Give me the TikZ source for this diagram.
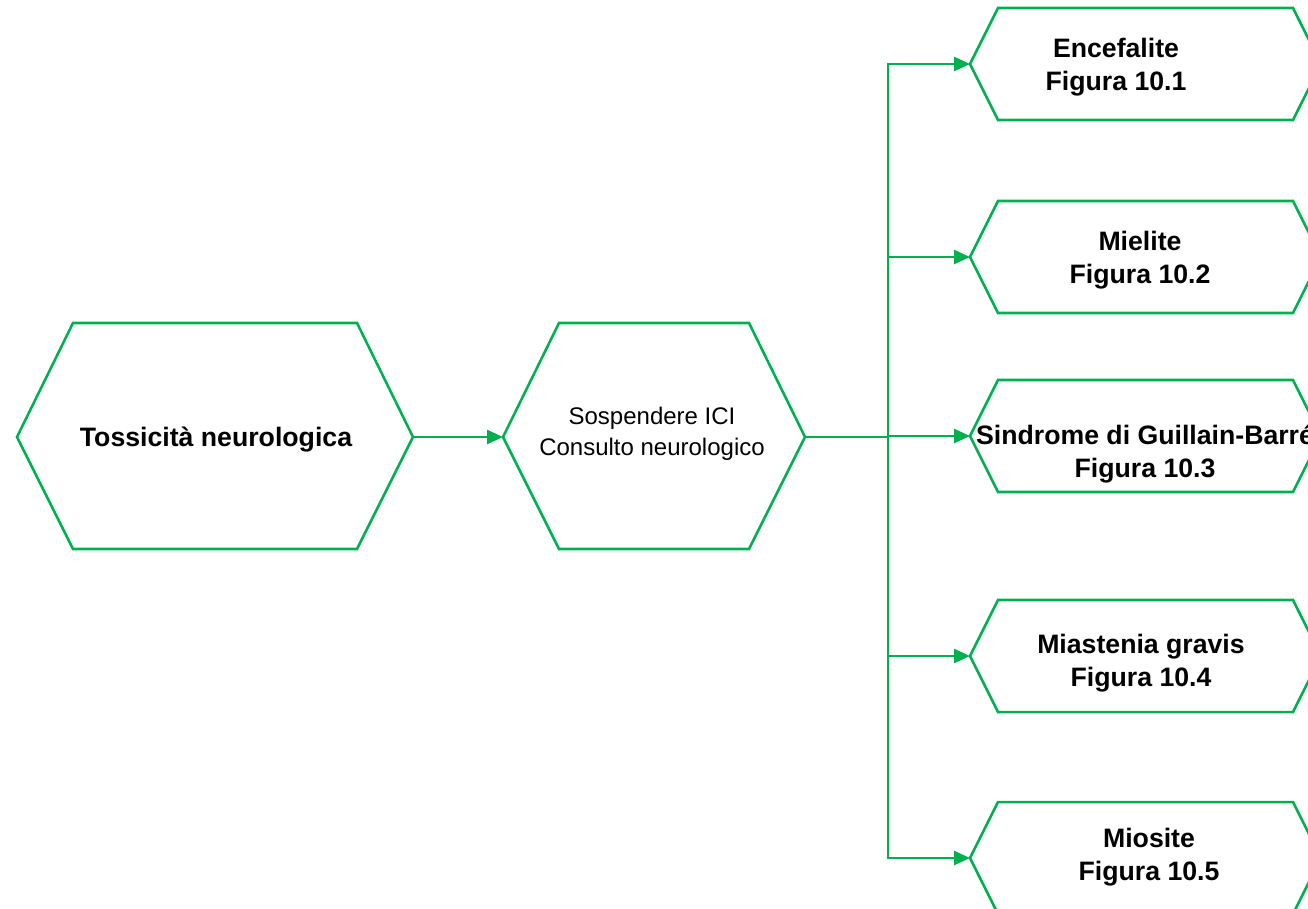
\documentclass[tikz,border=0pt]{standalone}
\usepackage{fontspec}
\setmainfont{Liberation Sans}
\usetikzlibrary{arrows.meta}
\definecolor{hexgreen}{HTML}{00B050}
\begin{document}
\begin{tikzpicture}[x=0.75pt,y=-0.75pt,
  hexline/.style={draw=hexgreen, line width=1.9pt, line join=miter},
  conn/.style={draw=hexgreen, line width=1.9pt},
  arr/.style={conn,-{Triangle[length=12pt,width=10.5pt]}},
  boldlbl/.style={font=\fontsize{20}{24.75}\selectfont\bfseries, align=center, inner sep=0pt},
  reglbl/.style={font=\fontsize{18}{23.25}\selectfont, align=center, inner sep=0pt}]
\clip (0,0) rectangle (1308,908);

% left hexagon
\draw[hexline] (17,437) coordinate (tox-l) -- (73,323) -- (357,323) -- (413,437) coordinate (tox-r) -- (357,549) -- (73,549) -- cycle;
\node[boldlbl] (tox) at (216,440) {Tossicità neurologica};

% middle hexagon
\draw[hexline] (503,437) coordinate (sos-l) -- (559,323) -- (749,323) -- (805,437) coordinate (sos-r) -- (749,549) -- (559,549) -- cycle;
\node[reglbl] (sos) at (652,434) {Sospendere ICI\\Consulto neurologico};

% right hexagons
\draw[hexline] (970,64) coordinate (h1-l) -- (998,8) -- (1293,8) -- (1321,64) -- (1293,120) -- (998,120) -- cycle;
\node[boldlbl] (h1) at (1116,67.5) {Encefalite\\Figura 10.1};

\draw[hexline] (970,257) coordinate (h2-l) -- (998,201) -- (1293,201) -- (1321,257) -- (1293,313) -- (998,313) -- cycle;
\node[boldlbl] (h2) at (1140,260) {Mielite\\Figura 10.2};

\draw[hexline] (970,436) coordinate (h3-l) -- (998,380) -- (1293,380) -- (1321,436) -- (1293,492) -- (998,492) -- cycle;
\node[boldlbl] (h3) at (1145,454) {Sindrome di Guillain-Barré\\Figura 10.3};

\draw[hexline] (970,656) coordinate (h4-l) -- (998,600) -- (1293,600) -- (1321,656) -- (1293,712) -- (998,712) -- cycle;
\node[boldlbl] (h4) at (1141,663) {Miastenia gravis\\Figura 10.4};

\draw[hexline] (970,858) coordinate (h5-l) -- (998,802) -- (1293,802) -- (1321,858) -- (1293,914) -- (998,914) -- cycle;
\node[boldlbl] (h5) at (1149,857) {Miosite\\Figura 10.5};

% connectors
\coordinate (trunk) at (888,437);
\draw[arr] (tox-r) -- (sos-l);
\draw[conn] (sos-r) -- (trunk);
\draw[arr] (trunk) |- (h1-l);
\draw[arr] (trunk) |- (h2-l);
\draw[arr] (trunk) |- (h3-l);
\draw[arr] (trunk) |- (h4-l);
\draw[arr] (trunk) |- (h5-l);
\end{tikzpicture}
\end{document}
